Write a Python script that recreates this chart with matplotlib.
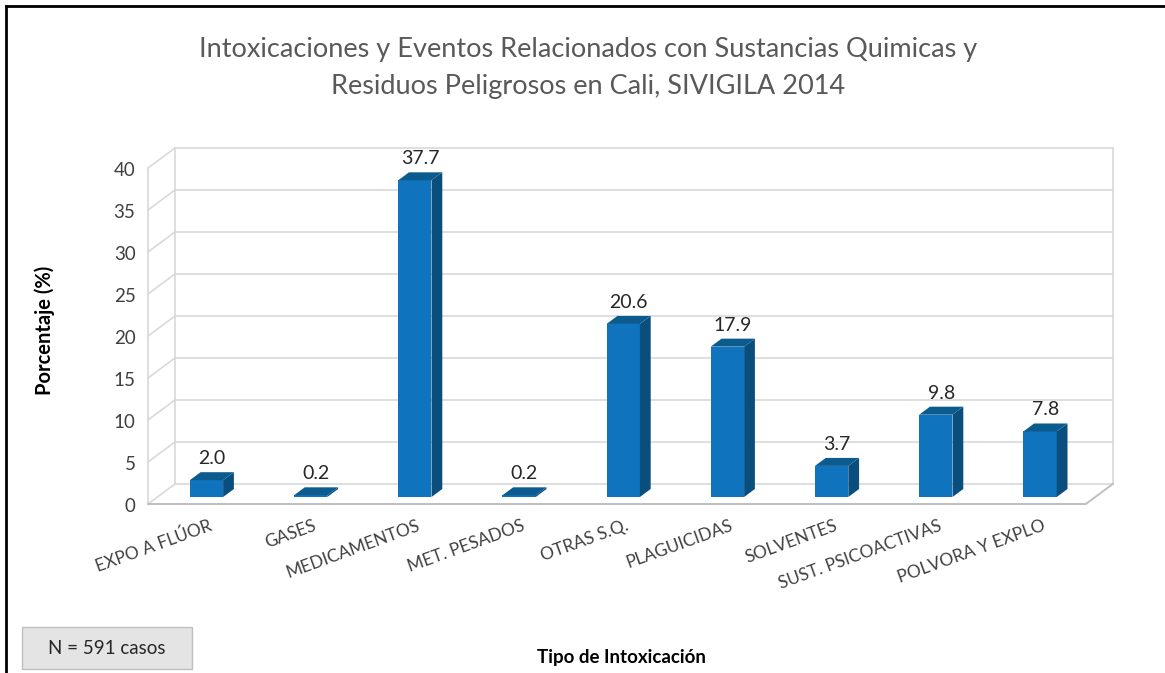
import matplotlib
matplotlib.use("Agg")
import matplotlib.pyplot as plt
from matplotlib.patches import Polygon, Rectangle
from matplotlib.lines import Line2D

# data
categorias = ["EXPO A FLÚOR", "GASES", "MEDICAMENTOS", "MET. PESADOS", "OTRAS S.Q.",
              "PLAGUICIDAS", "SOLVENTES", "SUST. PSICOACTIVAS", "POLVORA Y EXPLO"]
porcentajes = [2.0, 0.2, 37.7, 0.2, 20.6, 17.9, 3.7, 9.8, 7.8]
y_ticks = [0, 5, 10, 15, 20, 25, 30, 35, 40]

titulo = "Intoxicaciones y Eventos Relacionados con Sustancias Quimicas y\nResiduos Peligrosos en Cali, SIVIGILA 2014"
nota = "N = 591 casos"

plt.rcParams['font.family'] = ['Lato', 'DejaVu Sans']

W, H = 1165, 673
fig = plt.figure(figsize=(W / 100, H / 100), dpi=100)
ax = fig.add_axes([0, 0, 1, 1])

# pixel scale of the back wall: x unit = one category, y unit = one percent
PX_X = 104.2
PX_Y = 8.4
X0 = 175 + 0.5 * PX_X   # pixel of category 0 on back wall
Y0 = 484                # pixel of 0 % on back wall
ax.set_xlim(-X0 / PX_X, (W - X0) / PX_X)
ax.set_ylim((Y0 - H) / PX_Y, Y0 / PX_Y)
ax.axis('off')

# depth of the 3-D box in data units
DX = 27 / PX_X
DY = 20 / PX_Y
n = len(categorias)
xl, xr = -0.5, n - 0.5
grid = '#d9d9d9'

# back wall grid and left wall
for v in y_ticks:
    ax.plot([xl, xr], [v, v], color=grid, lw=1.2, zorder=1)
    ax.plot([xl, xl - DX], [v, v - DY], color=grid, lw=1.2, zorder=1)
    ax.text(xl - DX - 0.12, v - DY - 0.3, str(v), ha='right', va='center',
            fontsize=13.5, color='#404040')
top = max(y_ticks)
ax.plot([xl, xl], [0, top], color=grid, lw=1.2, zorder=1)
ax.plot([xr, xr], [0, top], color=grid, lw=1.2, zorder=1)
ax.plot([xl - DX, xl - DX], [-DY, top - DY], color=grid, lw=1.2, zorder=1)
# floor
ax.plot([xl - DX, xr - DX, xr], [-DY, -DY, 0], color='#bfbfbf', lw=1.4, zorder=1)

# bars
kf, kb = 0.65, 0.25
w = 0.32
c_front = '#0f74bd'
c_side = '#0a4e7e'
c_top = '#0c5b8f'
for i, v in enumerate(porcentajes):
    cx = i - 0.03 - DX * kf
    x1, x2 = cx - w / 2, cx + w / 2
    yb = -DY * kf
    d = DX * (kf - kb)
    dy = DY * (kf - kb)
    ax.add_patch(Rectangle((x1, yb), w, v, facecolor=c_front, edgecolor='none', zorder=3))
    ax.add_patch(Polygon([(x2, yb), (x2, yb + v), (x2 + d, yb + v + dy), (x2 + d, yb + dy)],
                         closed=True, facecolor=c_side, edgecolor='none', zorder=3))
    ax.add_patch(Polygon([(x1, yb + v), (x2, yb + v), (x2 + d, yb + v + dy), (x1 + d, yb + v + dy)],
                         closed=True, facecolor=c_top, edgecolor='none', zorder=3))
    ax.text(cx + d / 2, yb + v + dy + 0.6, f"{v:.1f}", ha='center', va='bottom',
            fontsize=14, color='#262626', zorder=4)
    ax.text(cx + 0.02, -4.0, categorias[i], rotation=20, rotation_mode='anchor',
            ha='right', va='top', fontsize=12.5, color='#404040')


def fx(px):
    return px / W


def fy(py):
    return 1 - py / H


fig.text(fx(588), fy(68), titulo, ha='center', va='center', fontsize=19.5,
         color='#595959', linespacing=1.6)
fig.text(fx(45), fy(330), "Porcentaje (%)", rotation=90, ha='center', va='center',
         fontsize=14.5, fontweight='bold', color='#000000')
fig.text(fx(621), fy(657), "Tipo de Intoxicación", ha='center', va='center',
         fontsize=13.5, fontweight='bold', color='#000000')

# note box
fig.patches.append(Rectangle((fx(22), fy(669)), fx(170), 42 / H, transform=fig.transFigure,
                             facecolor='#e4e4e4', edgecolor='#bfbfbf', lw=1))
fig.text(fx(107), fy(648), nota, ha='center', va='center', fontsize=13.5, color='#262626')

# outer frame (top and left edges visible)
fig.add_artist(Line2D([fx(6), 1], [fy(6), fy(6)], color='black', lw=2, transform=fig.transFigure))
fig.add_artist(Line2D([fx(6), fx(6)], [0, fy(6)], color='black', lw=2, transform=fig.transFigure))

fig.savefig("out.png", dpi=100)
